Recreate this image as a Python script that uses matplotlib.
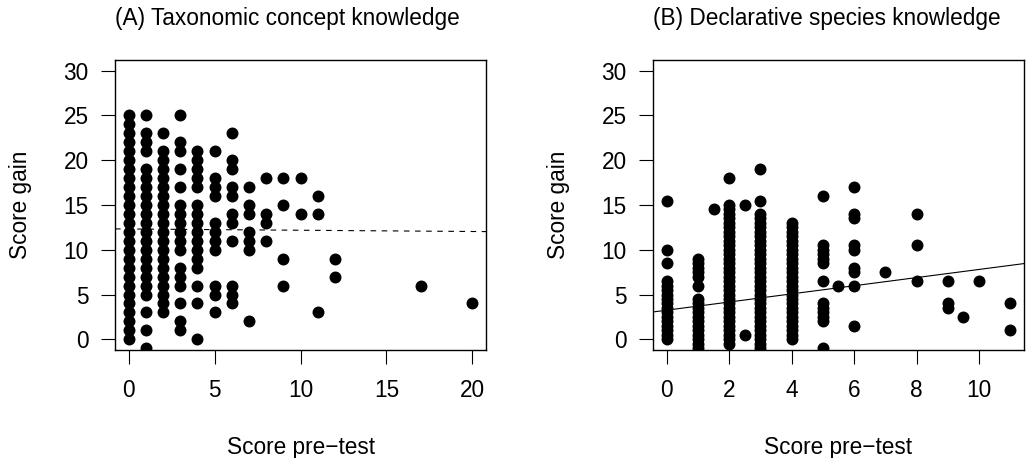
import numpy as np
import matplotlib
matplotlib.use("Agg")
import matplotlib.pyplot as plt

plt.rcParams['font.family'] = ['Liberation Sans', 'DejaVu Sans']

# (A) Taxonomic concept knowledge: pre-test score and the gains seen at it
pre_a = [0, 1, 2, 3, 4, 5, 6, 7, 8, 9, 10, 11, 12, 17, 20]
gain_a = [
    [0, 1, 2, 3, 4, 5, 6, 7, 8, 9, 10, 11, 12, 13, 14, 15, 16, 17, 18, 19, 20, 21, 22, 23, 24, 25],
    [25, 23, 22, 21, 19, 18, 17, 16, 15, 14, 13, 12, 11, 10, 9, 8, 7, 6, 5, 3, 1, -1],
    [23, 21, 20, 19, 18, 17, 16, 15, 14, 13, 12, 11, 10, 9, 8, 7, 6, 5, 4, 3],
    [25, 22, 21, 19, 17, 15, 14, 13, 12, 11, 10, 8, 7, 6, 4, 2, 1],
    [21, 20, 19, 18, 17, 15, 14, 13, 12, 11, 10, 9, 8, 6, 4, 0],
    [21, 18, 17, 16, 13, 12, 11, 10, 6, 5, 3],
    [23, 20, 19, 17, 16, 14, 13, 11, 6, 5, 4],
    [17, 15, 14, 12, 11, 10, 2],
    [18, 14, 13, 11],
    [18, 15, 9, 6],
    [18, 14],
    [16, 14, 3],
    [9, 7],
    [6],
    [4],
]
fit_a = [12.32, -0.014]   # intercept, slope (dashed)

# (B) Declarative species knowledge
pre_b = [0, 1, 1.5, 2, 2.5, 3, 4, 5, 5.5, 6, 7, 8, 9, 9.5, 10, 11]
gain_b = [
    [15.5, 10, 8.5, 6.5, 6, 5.5, 5, 4.5, 4, 3.5, 3, 2.5, 2, 1.5, 1, 0.5, 0],
    [9, 8.5, 8, 7.5, 7, 6, 4.5, 4, 3.5, 3, 2.5, 2, 1.5, 1, 0.5, 0, -0.5, -1],
    [14.5],
    [18, 15, 14.5, 14, 13.5, 13, 12.5, 12, 11.5, 11, 10.5, 10, 9.5, 9, 8.5, 8, 7.5, 7,
     6.5, 6, 5.5, 5, 4.5, 4, 3.5, 3, 2.5, 2, 1.5, 1, 0.5, 0, -0.5],
    [15, 0.5],
    [19, 15.5, 14, 13.5, 13, 12.5, 12, 11.5, 11, 10.5, 10, 9.5, 9, 8.5, 8, 7.5, 7,
     6.5, 6, 5.5, 5, 4.5, 4, 3.5, 3, 2.5, 2, 1.5, 1, 0.5, 0, -0.5, -1],
    [13, 12.5, 12, 11.5, 11, 10.5, 10, 9.5, 9, 8.5, 8, 7.5, 7, 6.5, 6, 5.5, 5,
     4.5, 4, 3.5, 3, 2.5, 2, 1.5, 1, 0.5, 0],
    [16, 10.5, 10, 9.5, 9, 8.5, 6.5, 4, 3.5, 3, 2.5, 2, -1],
    [6],
    [17, 14, 13.5, 10.5, 10, 8, 7.5, 6, 1.5],
    [7.5],
    [14, 10.5, 6.5],
    [6.5, 4, 3.5],
    [2.5],
    [6.5],
    [4, 1],
]
fit_b = [3.25, 0.455]     # intercept, slope (solid)

titles = ['(A) Taxonomic concept knowledge', '(B) Declarative species knowledge']
xticks_a = [0, 5, 10, 15, 20]
xticks_b = [0, 2, 4, 6, 8, 10]
yticks = [0, 5, 10, 15, 20, 25, 30]
fs = 16.3

fig = plt.figure(figsize=(10.29, 4.58), dpi=100)
ax_a = fig.add_axes([0.1118, 0.2358, 0.3605, 0.6332])
ax_b = fig.add_axes([0.6346, 0.2358, 0.3605, 0.6332])


def panel(ax, pre, gains, fit, xlim, xticks, title, ls):
    x = np.concatenate([[p] * len(g) for p, g in zip(pre, gains)])
    y = np.concatenate(gains)
    ax.plot(x, y, 'o', color='black', ms=8.6, mew=0, linestyle='none')
    xx = np.array(xlim)
    ax.plot(xx, fit[0] + fit[1] * xx, color='black', lw=0.8, linestyle=ls)
    ax.set_xlim(xlim)
    ax.set_ylim(-1.2, 31.2)
    ax.set_xticks(xticks)
    ax.set_yticks(yticks)
    ax.tick_params(direction='out', length=10, width=0.8, labelsize=fs, color='black')
    ax.tick_params(axis='x', pad=11)
    ax.tick_params(axis='y', pad=9)
    for s in ax.spines.values():
        s.set_linewidth(1.0)
    ax.set_title(title, loc='left', fontsize=fs, pad=25)
    ax.set_xlabel('Score pre\u2212test', fontsize=fs)
    ax.set_ylabel('Score gain', fontsize=fs)
    ax.xaxis.set_label_coords(0.5, -0.295)
    ax.yaxis.set_label_coords(-0.225, 0.5)


panel(ax_a, pre_a, gain_a, fit_a, (-0.8, 20.8), xticks_a, titles[0], (0, (5, 5)))
panel(ax_b, pre_b, gain_b, fit_b, (-0.44, 11.44), xticks_b, titles[1], '-')

fig.savefig('out.png', dpi=100)
